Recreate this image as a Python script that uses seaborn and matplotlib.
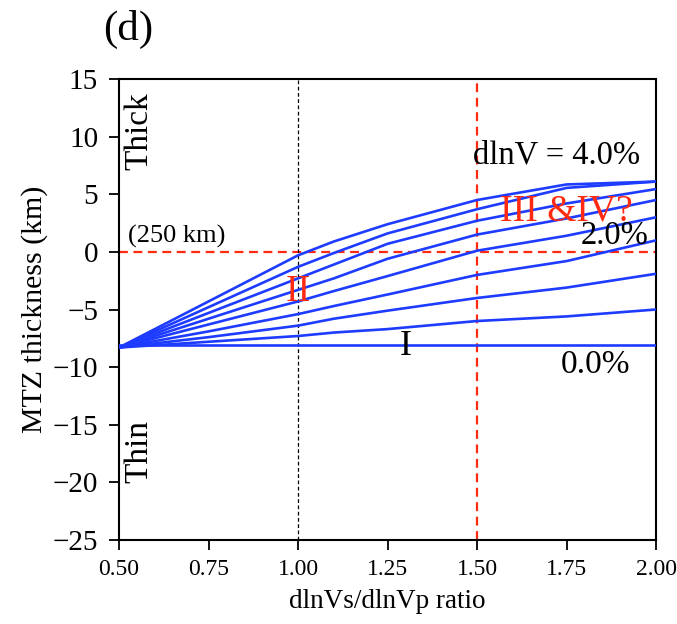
import matplotlib
matplotlib.use("Agg")
import matplotlib.pyplot as plt
import seaborn as sns
import pandas as pd

# ---- data ----
ratio = [0.5, 0.75, 1.0, 1.1, 1.25, 1.5, 1.75, 2.0]
dlnv_levels = ["4.0", "3.5", "3.0", "2.5", "2.0", "1.5", "1.0", "0.5", "0.0"]
thick_40 = [-8.3, -4.3, -0.3, 0.9, 2.4, 4.5, 5.85, 6.1]
thick_35 = [-8.3, -4.8, -1.3, -0.1, 1.6, 3.7, 5.55, 6.1]
thick_30 = [-8.3, -5.3, -2.3, -1.1, 0.7, 2.7, 4.2, 5.45]
thick_25 = [-8.3, -5.8, -3.3, -2.3, -0.6, 1.5, 2.9, 4.5]
thick_20 = [-8.3, -6.3, -4.3, -3.4, -2.1, 0.1, 1.4, 3.0]
thick_15 = [-8.3, -6.9, -5.4, -4.7, -3.7, -2.0, -0.8, 1.0]
thick_10 = [-8.3, -7.4, -6.4, -5.8, -5.1, -4.0, -3.1, -1.9]
thick_05 = [-8.3, -7.8, -7.3, -7.0, -6.7, -6.0, -5.6, -5.0]
thick_00 = [-8.1, -8.1, -8.1, -8.1, -8.1, -8.1, -8.1, -8.1]
series = [thick_40, thick_35, thick_30, thick_25, thick_20,
          thick_15, thick_10, thick_05, thick_00]

xtick_vals = [0.5, 0.75, 1.0, 1.25, 1.5, 1.75, 2.0]
xtick_labels = ["0.50", "0.75", "1.00", "1.25", "1.50", "1.75", "2.00"]
ytick_vals = [-25, -20, -15, -10, -5, 0, 5, 10, 15]
ytick_labels = ["\u221225", "\u221220", "\u221215", "\u221210", "\u22125",
                "0", "5", "10", "15"]

rows = []
for lev, vals in zip(dlnv_levels, series):
    for xv, yv in zip(ratio, vals):
        rows.append({"ratio": xv, "thickness": yv, "dlnV": lev})
df = pd.DataFrame(rows)

sns.set_style("ticks")
plt.rcParams["font.family"] = ["Liberation Serif", "DejaVu Serif"]
plt.rcParams["text.color"] = "black"
plt.rcParams["axes.labelcolor"] = "black"
plt.rcParams["xtick.color"] = "black"
plt.rcParams["ytick.color"] = "black"

fig = plt.figure(figsize=(6.77, 6.24), dpi=100)
ax = fig.add_axes([0.1758, 0.1346, 0.7932, 0.7388])

blue = "#1e3cff"
red = "#ff2a10"
sns.lineplot(data=df, x="ratio", y="thickness", hue="dlnV",
             palette={lev: blue for lev in dlnv_levels},
             legend=False, linewidth=1.9, ax=ax, zorder=3)

ax.axhline(0, color=red, ls=(0, (4, 2.5)), lw=1.6, zorder=2)
ax.axvline(1.5, color=red, ls=(0, (4, 2.5)), lw=1.6, zorder=2)
ax.axvline(1.0, color="black", ls=(0, (3, 2)), lw=0.9, zorder=2)

ax.set_xlim(0.5, 2.0)
ax.set_ylim(-25, 15)
ax.set_xticks(xtick_vals)
ax.set_xticklabels(xtick_labels)
ax.set_yticks(ytick_vals)
ax.set_yticklabels(ytick_labels)
ax.tick_params(axis="both", length=7, width=1.3, direction="out",
               colors="black")
ax.tick_params(axis="y", pad=8, labelsize=21)
ax.tick_params(axis="x", pad=7, labelsize=17)
for s in ax.spines.values():
    s.set_linewidth(1.5)
    s.set_color("black")

ax.set_xlabel("dlnVs/dlnVp ratio", fontsize=19.5, labelpad=6)
ax.set_ylabel("MTZ thickness (km)", fontsize=21.5, labelpad=3)

# annotations
ax.text(0.555, 10.5, "Thick", rotation=90, fontsize=24, ha="center", va="center")
ax.text(0.555, -17.3, "Thin", rotation=90, fontsize=24, ha="center", va="center")
ax.text(0.525, 1.35, "(250 km)", fontsize=19, ha="left", va="center")
ax.text(1.49, 8.4, "dlnV = 4.0%", fontsize=23.5, ha="left", va="center")
ax.text(1.565, 3.5, "III &IV?", fontsize=27, color=red, ha="left", va="center")
ax.text(1.79, 1.4, "2.0%", fontsize=23.5, ha="left", va="center")
ax.text(1.0, -3.5, "II", fontsize=27, color=red, ha="center", va="center")
ax.text(1.3, -8.2, "I", fontsize=26, ha="center", va="center")
ax.text(1.735, -9.8, "0.0%", fontsize=24, ha="left", va="center")

fig.text(0.19, 0.952, "(d)", fontsize=31, ha="center", va="center")

fig.savefig("out.png", dpi=100)
